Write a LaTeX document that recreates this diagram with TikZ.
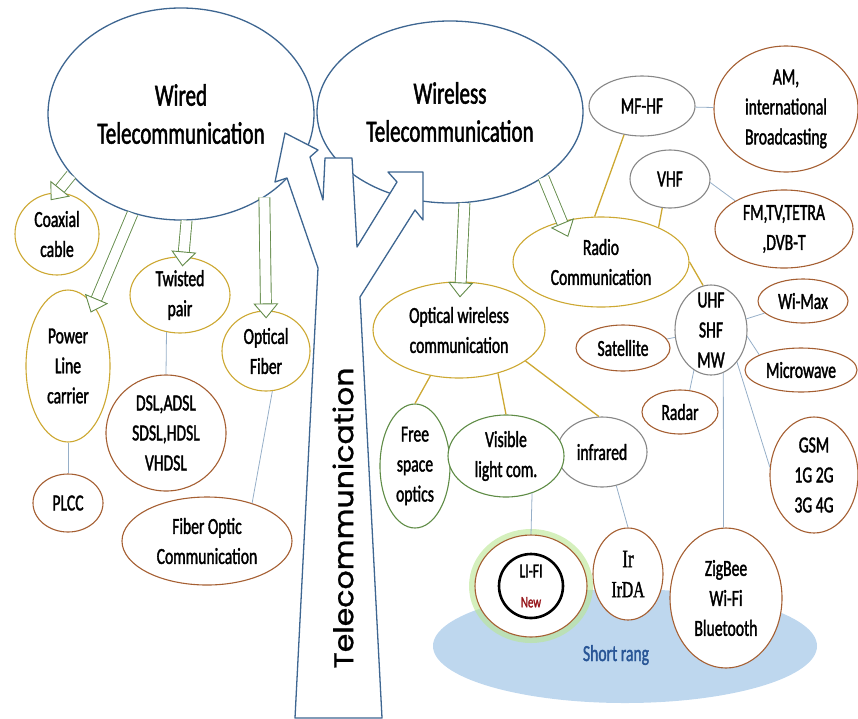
\documentclass[tikz,border=0pt]{standalone}
\usepackage{fontspec}
\usepackage{graphicx}
\usetikzlibrary{shapes.geometric,arrows.meta}
\newfontfamily\labelfont{Carlito}[FakeStretch=0.68,FakeBold=1.5]
\newfontfamily\irfont{Liberation Serif}[FakeStretch=0.68,FakeBold=1.2]
\newfontfamily\trunkfont{Poppins}[FakeBold=1]
\definecolor{treeblue}{RGB}{62,102,145}
\definecolor{arrowgreen}{RGB}{100,140,75}
\definecolor{goldline}{RGB}{205,168,50}
\definecolor{brownline}{RGB}{165,95,50}
\definecolor{grayline}{RGB}{135,135,135}
\definecolor{leafgreen}{RGB}{95,140,70}
\definecolor{linkblue}{RGB}{150,175,200}
\definecolor{zoneblue}{RGB}{190,215,238}
\definecolor{zonetext}{RGB}{40,85,150}
\definecolor{newred}{RGB}{150,20,25}
\definecolor{glowgreen}{RGB}{185,230,145}

\begin{document}
\begin{tikzpicture}[x=1pt,y=-1pt,
		bub/.style={ellipse, draw, fill=white, line width=1.1pt, inner sep=0pt, align=center, font=\labelfont\fontsize{23}{30}\selectfont},
		bigbub/.style={bub, draw=treeblue, line width=1.3pt, font=\labelfont\fontsize{31}{38}\selectfont},
		goldbub/.style={bub, draw=goldline},
		brownbub/.style={bub, draw=brownline},
		graybub/.style={bub, draw=grayline},
		greenbub/.style={bub, draw=leafgreen},
		wh/.style 2 args={minimum width=#1, minimum height=#2},
		link/.style={draw=linkblue, line width=0.8pt},
		goldlink/.style={draw=goldline, line width=1.3pt},
		fat/.style={draw=arrowgreen, line width=0.9pt, double=white, double distance=10pt,
			-{Triangle[fill=white, length=15pt, width=25pt, line width=0.9pt]}},
	]
	\useasboundingbox (0,0) rectangle (858,718);

	\node[ellipse, fill=zoneblue, inner sep=0pt, wh={384pt}{114pt}] (short) at (625,646) {};
	\node[font=\labelfont\fontsize{23}{28}\selectfont, text=zonetext] (shortlbl) at (616,655) {Short rang};

	\node[bigbub, wh={266pt}{212pt}] (wired) at (181,114) {Wired\\Telecommunication};
	\node[bigbub, wh={266pt}{182pt}] (wireless) at (450,112) {Wireless\\Telecommunication};

	\draw[treeblue, line width=1.3pt, fill=white, line join=round]
		(295,718) -- (318,268) -- (287,178) -- (275,182) -- (285,133) -- (318,150) -- (310,157)
		-- (323,200) -- (325,158) -- (352,158) -- (357,247) -- (397,182) -- (388,172)
		-- (423,172) -- (423,220) -- (415,210) -- (360,297) -- (382,718) -- cycle;
	\node[rotate=90, font=\trunkfont\fontsize{30}{30}\selectfont] (trunk) at (343,518) {\scalebox{1}[0.9]{Telecommunication}};
	%\node[rotate=90, font=\labelfont\fontsize{40}{40}\selectfont] (trunk) at (343,518) {Telecommunication};

	\node[goldbub, wh={84pt}{82pt}] (coax) at (57,234) {Coaxial\\cable};
	\node[goldbub, wh={84pt}{152pt}] (plc) at (68,366) {Power\\Line\\carrier};
	\node[goldbub, wh={100pt}{76pt}] (twisted) at (180,295) {Twisted\\pair};
	\node[goldbub, wh={88pt}{80pt}] (optfib) at (266,351) {Optical\\Fiber};
	\node[goldbub, wh={172pt}{96pt}] (owc) at (459,330) {Optical wireless\\communication};
	\node[goldbub, wh={176pt}{90pt}] (radio) at (601,262) {Radio\\Communication};

	\node[brownbub, wh={70pt}{58pt}] (plcc) at (68,503) {PLCC};
	\node[brownbub, wh={120pt}{116pt}] (dsl) at (166,433) {DSL,ADSL\\SDSL,HDSL\\VHDSL};
	\node[brownbub, wh={170pt}{88pt}] (focom) at (207,541) {Fiber Optic\\Communication};
	\node[brownbub, wh={144pt}{126pt}] (am) at (786,109) {AM,\\international\\Broadcasting};
	\node[brownbub, wh={138pt}{78pt}] (fm) at (784,229) {FM,TV,TETRA\\,DVB-T};
	\node[brownbub, wh={90pt}{44pt}] (wimax) at (803,301) {Wi-Max};
	\node[brownbub, wh={94pt}{46pt}] (sat) at (623,348) {Satellite};
	\node[brownbub, wh={112pt}{44pt}] (micro) at (801,370) {Microwave};
	\node[brownbub, wh={76pt}{44pt}] (radar) at (680,412) {Radar};
	\node[brownbub, wh={88pt}{116pt}] (gsm) at (814,475) {GSM\\1G 2G\\3G 4G};
	\node[brownbub, wh={112pt}{140pt}] (zig) at (726,598) {ZigBee\\Wi-Fi\\Bluetooth};
	\node[brownbub, wh={70pt}{92pt}] (irda) at (628,574) {{\irfont\fontsize{25}{29}\selectfont Ir}\\{\irfont IrDA}};
	\draw[glowgreen, line width=10pt, opacity=0.6] (531,586) circle[x radius=57pt, y radius=52pt];
	\node[brownbub, wh={112pt}{102pt}] (lifi) at (531,586) {{\fontsize{20}{25}\selectfont LI-FI}\\{\fontsize{16}{25}\selectfont\color{newred}New}};
	\draw[line width=2.6pt] (lifi.center) circle[radius=32pt];

	\node[graybub, wh={106pt}{60pt}] (mfhf) at (642,106) {MF-HF};
	\node[graybub, wh={80pt}{58pt}] (vhf) at (670,179) {VHF};
	\node[graybub, wh={72pt}{90pt}, inner sep=-10pt] (uhf) at (711,330) {UHF\\SHF\\MW};
	\node[graybub, wh={90pt}{70pt}] (infr) at (602,452) {infrared};

	\node[greenbub, wh={70pt}{124pt}] (fso) at (415,466) {Free\\space\\optics};
	\node[greenbub, wh={116pt}{82pt}] (vlc) at (506,456) {Visible\\light com.};

	\draw[link] (plc) -- (plcc);
	\draw[link] (twisted.250) -- (dsl.north);
	\draw[link] (optfib.279) -- (focom.40);
	\draw[link] (mfhf) -- (am);
	\draw[link] (vhf.-5) -- (fm.150);
	\draw[link] (uhf) -- (wimax);
	\draw[link] (uhf) -- (sat);
	\draw[link] (uhf.-10) -- (micro.160);
	\draw[link] (uhf.247) -- (radar.66);
	\draw[link] (uhf.286) -- (zig.92);
	\draw[link] (uhf.309) -- (gsm.170);
	\draw[link] (vlc.305) -- (lifi.north);
	\draw[link] (infr.293) -- (irda.north);

	\draw[goldlink] (mfhf.238) -- (radio.98);
	\draw[goldlink] (vhf.255) -- (radio.31);
	\draw[goldlink] (radio.east) -- (uhf.100);
	\draw[goldlink] (owc.238) -- (fso.north);
	\draw[goldlink] (owc.312) -- (vlc.north);
	\draw[goldlink] (owc.-25) -- (infr.95);

	\draw[fat, shorten >=-10pt] (wired.209) -- (coax.north);
	\draw[fat, shorten >=-8pt] (wired.244) -- (plc.67);
	\draw[fat, shorten >=-10pt] (wired.273) -- (twisted.85);
	\draw[fat, shorten >=-8pt] (wired.315) -- (optfib.north);
	\draw[fat, shorten >=-16pt] (wireless.279) -- (owc.88);
	\draw[fat, shorten >=-17pt] (wireless.325) -- (radio.134);
\end{tikzpicture}
\end{document}
